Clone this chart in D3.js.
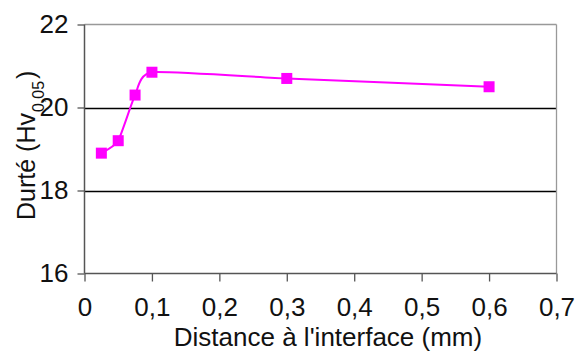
<!DOCTYPE html>
<html><head><meta charset="utf-8">
<script src="https://cdn.jsdelivr.net/npm/d3@7"></script>
<style>body{margin:0;background:#fff}svg{display:block}text{font-family:"Liberation Sans",Arial,sans-serif;fill:#111}</style>
</head><body>
<svg id="c" width="578" height="353"></svg>
<script>
const distance = [0.025, 0.05, 0.075, 0.1, 0.3, 0.6];
const durete = [18.9, 19.2, 20.3, 20.85, 20.7, 20.5];
const xTicks = [0, 0.1, 0.2, 0.3, 0.4, 0.5, 0.6, 0.7];
const yTicks = [16, 18, 20, 22];
const xTitle = "Distance à l'interface (mm)";

const svg = d3.select("#c");
const x = d3.scaleLinear().domain([0, 0.7]).range([84.5, 556.5]);
const y = d3.scaleLinear().domain([16, 22]).range([273.5, 24.5]);
const fmt = d => String(d).replace(".", ",");

// gridlines
svg.append("g").selectAll("line").data([18, 20]).join("line")
  .attr("x1", x(0)).attr("x2", x(0.7)).attr("y1", d => Math.round(y(d)) + 0.5).attr("y2", d => Math.round(y(d)) + 0.5)
  .attr("stroke", "#000").attr("stroke-width", 1.3);
// plot border top/right
svg.append("line").attr("x1", x(0)).attr("x2", x(0.7)).attr("y1", y(22)).attr("y2", y(22)).attr("stroke", "#999").attr("stroke-width", 1.3);
svg.append("line").attr("x1", x(0.7)).attr("x2", x(0.7)).attr("y1", y(22)).attr("y2", y(16)).attr("stroke", "#999").attr("stroke-width", 1.3);

// axes
const xa = svg.append("g").attr("transform", `translate(0,${y(16)})`)
  .call(d3.axisBottom(x).tickValues(xTicks).tickFormat(fmt).tickSize(8).tickPadding(16));
const ya = svg.append("g").attr("transform", `translate(${x(0)},0)`)
  .call(d3.axisLeft(y).tickValues(yTicks).tickFormat(fmt).tickSize(7).tickPadding(9));
[xa, ya].forEach(g => {
  g.select(".domain").attr("stroke", "#555").attr("stroke-width", 1.5);
  g.selectAll(".tick line").attr("stroke", "#555").attr("stroke-width", 1.3);
  g.selectAll("text").style("font-size", "26px").attr("fill", "#111")
    .style("font-family", '"Liberation Sans",Arial,sans-serif');
});
xa.select(".domain").attr("d", `M${x(0)},0H${x(0.7)}`);
ya.select(".domain").attr("d", `M0,${y(16)}V${y(22)}`);

// line
const pts = distance.map((d, i) => [d, durete[i]]);
svg.append("path").datum(pts)
  .attr("d", d3.line().x(d => x(d[0])).y(d => y(d[1])).curve(d3.curveCardinal.tension(0.5)))
  .attr("fill", "none").attr("stroke", "#ff00ff").attr("stroke-width", 2);
svg.append("g").selectAll("rect").data(pts).join("rect")
  .attr("x", d => x(d[0]) - 5.5).attr("y", d => y(d[1]) - 5.5)
  .attr("width", 11).attr("height", 11).attr("fill", "#ff00ff");

// titles
svg.append("text").attr("x", 328).attr("y", 346).attr("text-anchor", "middle")
  .style("font-size", "26px").text(xTitle);
const yt = svg.append("text").attr("transform", "translate(35,220) rotate(-90)")
  .attr("text-anchor", "start").style("font-size", "25px");
yt.append("tspan").text("Durté (Hv");
yt.append("tspan").attr("dy", 9).attr("dx", 1).style("font-size", "16px").text("0,05");
yt.append("tspan").attr("dy", -9).attr("dx", 2).text(")");
</script>
</body></html>
